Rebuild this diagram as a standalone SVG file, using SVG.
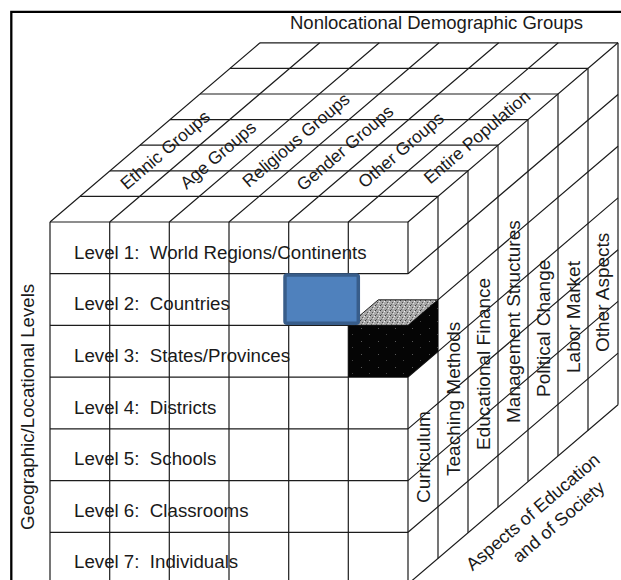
<svg xmlns="http://www.w3.org/2000/svg" width="621" height="580" viewBox="0 0 621 580">
<defs>
<style>
.grid path{stroke:#1c1c1c;stroke-width:1.2;fill:none}
text{font-family:"Liberation Sans",Arial,sans-serif;fill:#1a1a1a}
.lvl{font-size:18.7px;white-space:pre}
.top{font-size:17.5px;text-anchor:middle}
.rf{font-size:19px}
</style>
<pattern id="stip" width="5" height="5" patternUnits="userSpaceOnUse">
<rect width="5" height="5" fill="#a8a8a8"/>
<rect x="0" y="0" width="1" height="1" fill="#3a3a3a"/>
<rect x="2" y="2" width="1" height="1" fill="#555"/>
<rect x="4" y="1" width="1" height="1" fill="#eee"/>
<rect x="1" y="4" width="1" height="1" fill="#666"/>
<rect x="3" y="3" width="1" height="1" fill="#ddd"/>
</pattern>
<pattern id="spk" width="17" height="13" patternUnits="userSpaceOnUse">
<rect width="17" height="13" fill="#050505"/>
<rect x="4" y="3" width="1" height="1" fill="#5a5a5a"/>
<rect x="12" y="9" width="1" height="1" fill="#444"/>
</pattern>
</defs>
<rect width="621" height="580" fill="#fff"/>
<path d="M11.3,580 V11.8 H621" stroke="#000" stroke-width="2.3" fill="none"/>

<g id="grid" class="grid">
<path d="M50,222V584 M109.7,222V584 M169.3,222V584 M229,222V584 M288.7,222V584 M348.3,222V584 M408,222V274 M408,299.8V584"/>
<path d="M50,222H408 M50,273.7H408 M50,325.4H408 M50,377.1H408 M50,428.9H408 M50,480.6H408 M50,532.3H408"/>
<path d="M80,196.4H438 M110,170.8H468 M140,145.2H498 M170,119.6H528 M200,94H558 M230,68.4H588 M260,42.8H618"/>
<path d="M50,222L260,42.8 M109.7,222L319.7,42.8 M169.3,222L379.3,42.8 M229,222L439,42.8 M288.7,222L498.7,42.8 M348.3,222L558.3,42.8 M408,222L618,42.8"/>
<path d="M438,196.4V558.4 M468,170.8V532.8 M498,145.2V507.2 M528,119.6V481.6 M558,94V456 M588,68.4V430.4 M618,42.8V404.8"/>
<path d="M408,273.7L618,94.5 M408,325.4L618,146.2 M408,377.1L618,197.9 M408,428.9L618,249.7 M408,480.6L618,301.4 M408,532.3L618,353.1 M408,584L618,404.8"/>
</g>

<g id="unit-cube">
<polygon points="348.3,325.4 408,325.4 438,299.8 378.3,299.8" fill="url(#stip)" stroke="#222" stroke-width="1"/>
<rect x="348.3" y="325.4" width="59.7" height="51.7" fill="url(#spk)"/>
<polygon points="408,325.4 438,299.8 438,351.5 408,377.1" fill="url(#spk)"/>
</g>

<g id="highlight">
<rect x="285" y="275" width="73.3" height="48.3" rx="2" fill="#4F81BD" stroke="#385D8A" stroke-width="3.5"/>
</g>

<g id="title-nonlocational"><text x="290" y="29" font-size="18.5">Nonlocational Demographic Groups</text></g>
<g id="title-geographic"><text transform="translate(34,530) rotate(-90)" font-size="18.7">Geographic/Locational Levels</text></g>

<g id="levels" class="lvl">
<text x="74" y="258.5" xml:space="preserve">Level 1:  World Regions/Continents</text>
<text x="74" y="310.2" xml:space="preserve">Level 2:  Countries</text>
<text x="74" y="361.9" xml:space="preserve">Level 3:  States/Provinces</text>
<text x="74" y="413.6" xml:space="preserve">Level 4:  Districts</text>
<text x="74" y="465.4" xml:space="preserve">Level 5:  Schools</text>
<text x="74" y="517" xml:space="preserve">Level 6:  Classrooms</text>
<text x="74" y="568" xml:space="preserve">Level 7:  Individuals</text>
</g>

<g id="groups" class="top">
<text transform="translate(165,150) rotate(-40.5)" y="6">Ethnic Groups</text>
<text transform="translate(218,155) rotate(-40.5)" y="6">Age Groups</text>
<text transform="translate(296,140) rotate(-40.5)" y="6">Religious Groups</text>
<text transform="translate(345,148) rotate(-40.5)" y="6">Gender Groups</text>
<text transform="translate(401,150) rotate(-40.5)" y="6">Other Groups</text>
<text transform="translate(477,137) rotate(-40.5)" y="6">Entire Population</text>
</g>

<g id="aspects" class="rf">
<text transform="translate(430,503) rotate(-90)">Curriculum</text>
<text transform="translate(460,476) rotate(-90)">Teaching Methods</text>
<text transform="translate(490,450) rotate(-90)">Educational Finance</text>
<text transform="translate(520,423) rotate(-90)">Management Structures</text>
<text transform="translate(550,397) rotate(-90)">Political Change</text>
<text transform="translate(580,373) rotate(-90)">Labor Market</text>
<text transform="translate(609,352) rotate(-90)">Other Aspects</text>
</g>

<g id="title-aspects" font-size="18" text-anchor="middle">
<g transform="translate(533,512) rotate(-40.5)">
<text x="0" y="6">Aspects of Education</text>
<text x="13" y="30">and of Society</text>
</g>
</g>
</svg>
